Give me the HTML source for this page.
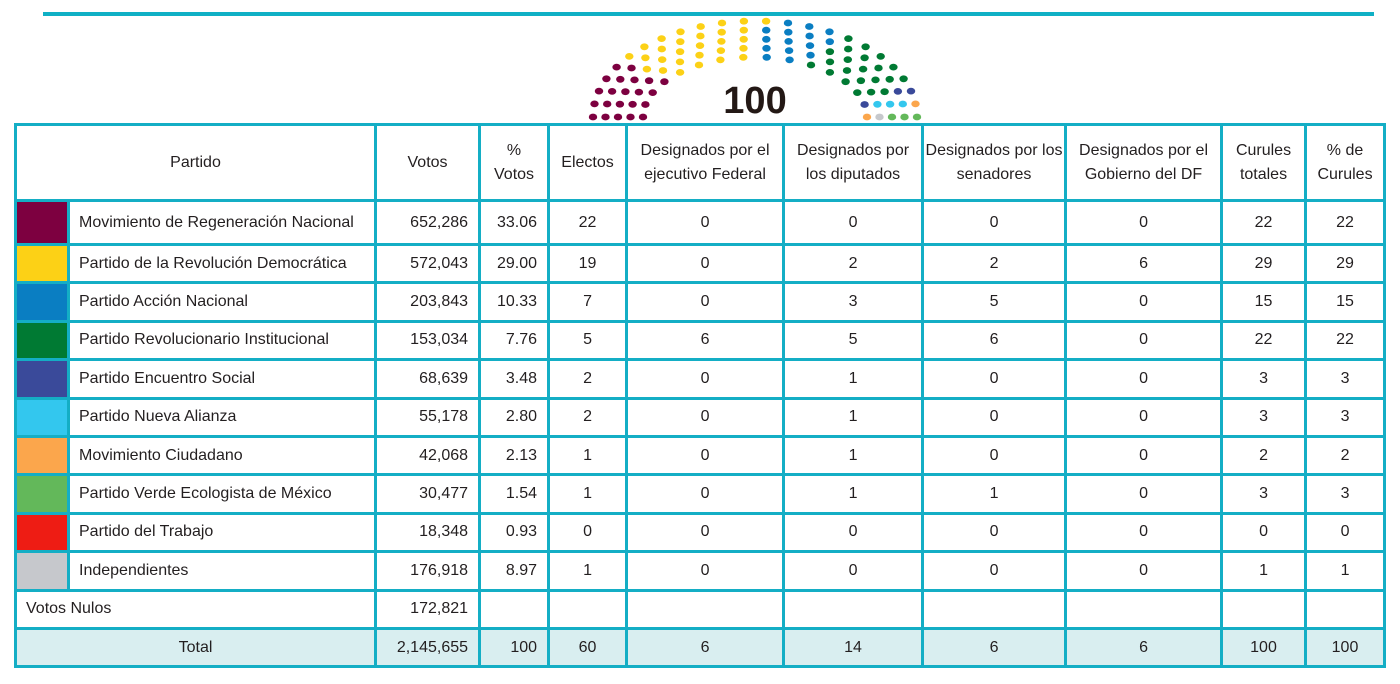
<!DOCTYPE html>
<html><head><meta charset="utf-8"><style>
body{margin:0;width:1400px;height:684px;background:#fff;position:relative;overflow:hidden;font-family:"Liberation Sans",sans-serif;color:#231f20}
#topline{position:absolute;left:43px;top:12px;width:1331px;height:4px;background:#0fb0c5}
#arc{position:absolute;left:0;top:0}
table{position:absolute;left:14px;top:123px;border-collapse:collapse;table-layout:fixed;width:1372px}
td{border:3px solid #14aec5;font-size:16px;text-align:center;padding:0;overflow:hidden;white-space:nowrap}
td.n{text-align:right;padding-right:10px}
td.p{text-align:left;padding-left:9px}
tr.h td{height:73px;line-height:24px;white-space:normal}
tr.r td{height:35.4px}
tr.r1 td{height:41px}
tr.t td{background:#d9eef0;height:35.4px}
.sw{padding:0}
</style></head><body>
<div id="topline"></div>
<svg id="arc" width="1400" height="130">
<text x="755" y="113" text-anchor="middle" font-family="Liberation Sans, sans-serif" font-weight="bold" font-size="38" fill="#231815">100</text>
</svg>
<table>
<colgroup><col style="width:53px"><col style="width:307px"><col style="width:104px"><col style="width:69px"><col style="width:78px"><col style="width:157px"><col style="width:139px"><col style="width:143px"><col style="width:156px"><col style="width:84px"><col style="width:79px"></colgroup>
<tbody id="tb">
<tr class="h">
<td colspan="2">Partido</td>
<td>Votos</td>
<td>%<br>Votos</td>
<td>Electos</td>
<td>Designados por el ejecutivo Federal</td>
<td>Designados por los diputados</td>
<td>Designados por los senadores</td>
<td>Designados por el Gobierno del DF</td>
<td>Curules totales</td>
<td>% de Curules</td>
</tr>
</tbody></table>
<script>
const parties=["Movimiento de Regeneración Nacional","Partido de la Revolución Democrática","Partido Acción Nacional","Partido Revolucionario Institucional","Partido Encuentro Social","Partido Nueva Alianza","Movimiento Ciudadano","Partido Verde Ecologista de México","Partido del Trabajo","Independientes"];
const colors=["#7d0040","#fcd116","#0a7ec2","#007a33","#3a4a9a","#33c7ee","#fba64c","#63b85a","#ee1c14","#c6c8cc"];
const votos=["652,286","572,043","203,843","153,034","68,639","55,178","42,068","30,477","18,348","176,918"];
const pctVotos=["33.06","29.00","10.33","7.76","3.48","2.80","2.13","1.54","0.93","8.97"];
const electos=[22,19,7,5,2,2,1,1,0,1];
const ejecutivo=[0,0,0,6,0,0,0,0,0,0];
const diputados=[0,2,3,5,1,1,1,1,0,0];
const senadores=[0,2,5,6,0,0,0,1,0,0];
const gobierno=[0,6,0,0,0,0,0,0,0,0];
const curules=[22,29,15,22,3,3,2,3,0,1];
const pctCurules=[22,29,15,22,3,3,2,3,0,1];
const tb=document.getElementById('tb');
function cell(tr,txt,cls,name){const td=document.createElement('td');td.textContent=txt;if(cls)td.className=cls;


tr.appendChild(td);return td;}
parties.forEach((p,i)=>{
const tr=document.createElement('tr');tr.className=i===0?'r r1':'r';


const sw=cell(tr,'','sw','party-swatch');sw.style.background=colors[i];
cell(tr,p,'p','party-name');
cell(tr,votos[i],'n','votos');
cell(tr,pctVotos[i],'n','pct-votos');
cell(tr,electos[i],'','electos');
cell(tr,ejecutivo[i],'','ejecutivo');
cell(tr,diputados[i],'','diputados');
cell(tr,senadores[i],'','senadores');
cell(tr,gobierno[i],'','gobierno-df');
cell(tr,curules[i],'','curules');
cell(tr,pctCurules[i],'','pct-curules');
tb.appendChild(tr);});
let tr=document.createElement('tr');tr.className='r';


let c=cell(tr,'Votos Nulos','p','votos-nulos-label');c.colSpan=2;
cell(tr,'172,821','n','votos-nulos-value');
for(let k=0;k<8;k++)cell(tr,'','','empty-cell');
tb.appendChild(tr);
tr=document.createElement('tr');tr.className='t';


c=cell(tr,'Total','','total-label');c.colSpan=2;
const totals=["2,145,655","100","60","6","14","6","6","100","100"];
totals.forEach((v,k)=>cell(tr,v,k<2?'n':'','total-value'));
tb.appendChild(tr);
// seat arc
const svg=document.getElementById('arc');const NS='http://www.w3.org/2000/svg';
const cx=755,cy=117,radii=[112,124.5,137,149.5,162],vradii=[60,69,78,87,96];
const tot=curules.reduce((a,b)=>a+b,0);
const rs=radii.reduce((a,b)=>a+b,0);
let counts=radii.map(r=>Math.round(tot*r/rs));let diff=tot-counts.reduce((a,b)=>a+b,0);counts[4]+=diff;
let seats=[];
radii.forEach((r,ri)=>{const n=counts[ri];for(let j=0;j<n;j++){const a=Math.PI-(n>1?j*Math.PI/(n-1):Math.PI/2);seats.push({a,r,v:vradii[ri]});}});
seats.sort((s,t)=>t.a-s.a||t.r-s.r);
let idx=0;
curules.forEach((n,pi)=>{for(let k=0;k<n;k++){const s=seats[idx++];if(!s)return;
const e=document.createElementNS(NS,'ellipse');
e.setAttribute('cx',(cx+s.r*Math.cos(s.a)).toFixed(1));e.setAttribute('cy',(cy-s.v*Math.sin(s.a)).toFixed(1));
e.setAttribute('rx',4.2);e.setAttribute('ry',3.4);e.setAttribute('fill',colors[pi]);


svg.appendChild(e);}});
</script>
</body></html>
